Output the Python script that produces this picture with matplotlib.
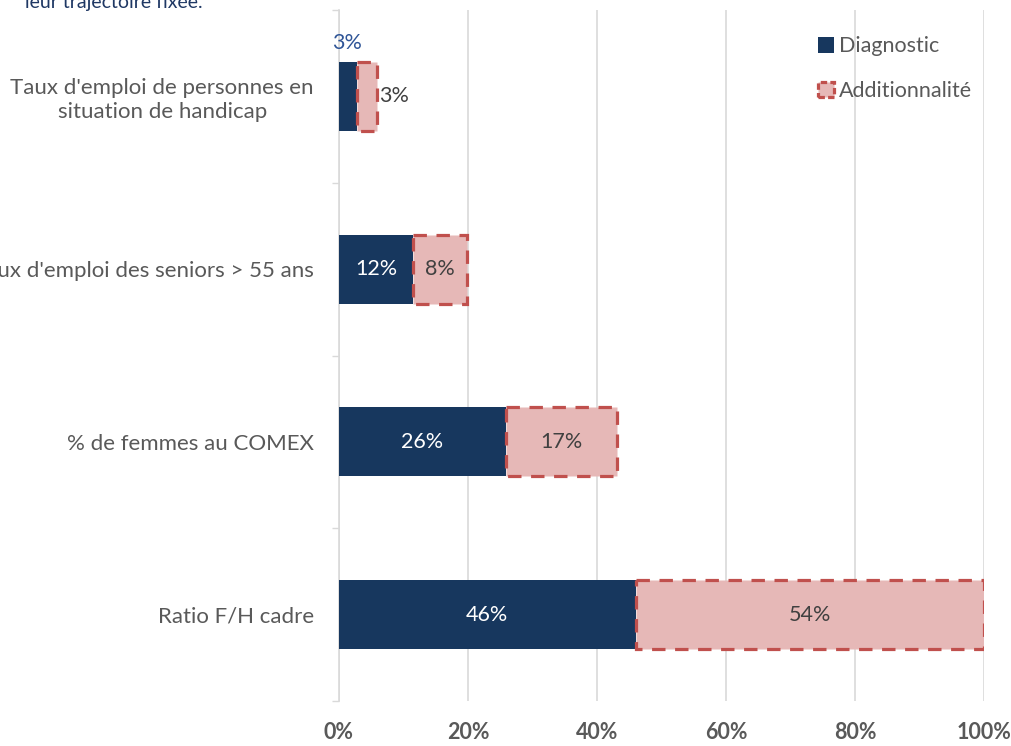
import matplotlib.pyplot as plt
import numpy as np
from matplotlib.patches import Patch

# data
categories = ["Taux d'emploi de personnes en\nsituation de handicap",
              "Taux d'emploi des seniors > 55 ans",
              "% de femmes au COMEX",
              "Ratio F/H cadre"]
diagnostic = [2.8, 11.5, 25.9, 46.0]
additionnalite = [3.1, 8.4, 17.2, 54.0]
labels_diag = ["3%", "12%", "26%", "46%"]
labels_add = ["3%", "8%", "17%", "54%"]
xticks = [0, 20, 40, 60, 80, 100]

navy = "#17375E"
pink = "#E6B8B7"
red = "#C0504D"
grey = "#595959"

plt.rcParams['font.family'] = ['Lato', 'DejaVu Sans']

fig = plt.figure(figsize=(10.11, 7.46), dpi=100)
ax = fig.add_axes([339 / 1011, 1 - 701 / 746, 645 / 1011, 691 / 746])

y = np.arange(len(categories))
h = 0.4
ax.barh(y, diagnostic, height=h, color=navy, zorder=3)
ax.barh(y, additionnalite, left=diagnostic, height=h, color=pink,
        edgecolor=red, linewidth=2.3, linestyle=(0, (4.2, 3)), zorder=3)

# data labels
fs = 15.5
for i in range(len(categories)):
    d = diagnostic[i]
    a = additionnalite[i]
    if d < 5:
        ax.text(d / 2 - 0.2, i - h / 2 - 0.05, labels_diag[i], ha='center', va='bottom',
                color="#2F5597", fontsize=fs)
        ax.text(d + a + 0.3, i, labels_add[i], ha='left', va='center',
                color="#404040", fontsize=fs)
    else:
        ax.text(d / 2, i, labels_diag[i], ha='center', va='center',
                color='white', fontsize=fs, zorder=4)
        ax.text(d + a / 2, i, labels_add[i], ha='center', va='center',
                color="#404040", fontsize=fs, zorder=4)

ax.set_xlim(0, 100)
ax.set_ylim(3.5, -0.5)
ax.set_xticks(xticks)
ax.set_xticklabels([f"{v}%" for v in xticks], fontweight='bold', color=grey, fontsize=fs)
ax.tick_params(axis='x', length=0, pad=15)
ax.set_yticks(y)
ax.set_yticklabels(categories, color=grey, fontsize=16, multialignment='center')
ax.tick_params(axis='y', which='major', length=0, pad=18)
ax.set_yticks(np.arange(-0.5, 4, 1), minor=True)
ax.tick_params(axis='y', which='minor', length=5, color="#D9D9D9", width=1)

ax.grid(axis='x', color="#D9D9D9", linewidth=1.2, zorder=0)
for s in ['top', 'right', 'bottom']:
    ax.spines[s].set_visible(False)
ax.spines['left'].set_color("#D9D9D9")
ax.spines['left'].set_linewidth(1.2)

handles = [Patch(facecolor=navy, label="Diagnostic"),
           Patch(facecolor=pink, edgecolor=red, linewidth=2.3, linestyle=(0, (2, 1)),
                 label="Additionnalité")]
leg = ax.legend(handles=handles, loc='upper right', bbox_to_anchor=(1.012, 0.99),
                frameon=False, fontsize=fs, labelspacing=1.15, handlelength=0.75,
                handleheight=0.75, handletextpad=0.25, labelcolor=grey)

fig.text(25 / 1011, 1 - 8 / 746, "leur trajectoire fixée.", color="#1F3864",
         fontsize=14, va='baseline', ha='left')

fig.savefig("out.png", dpi=100)
